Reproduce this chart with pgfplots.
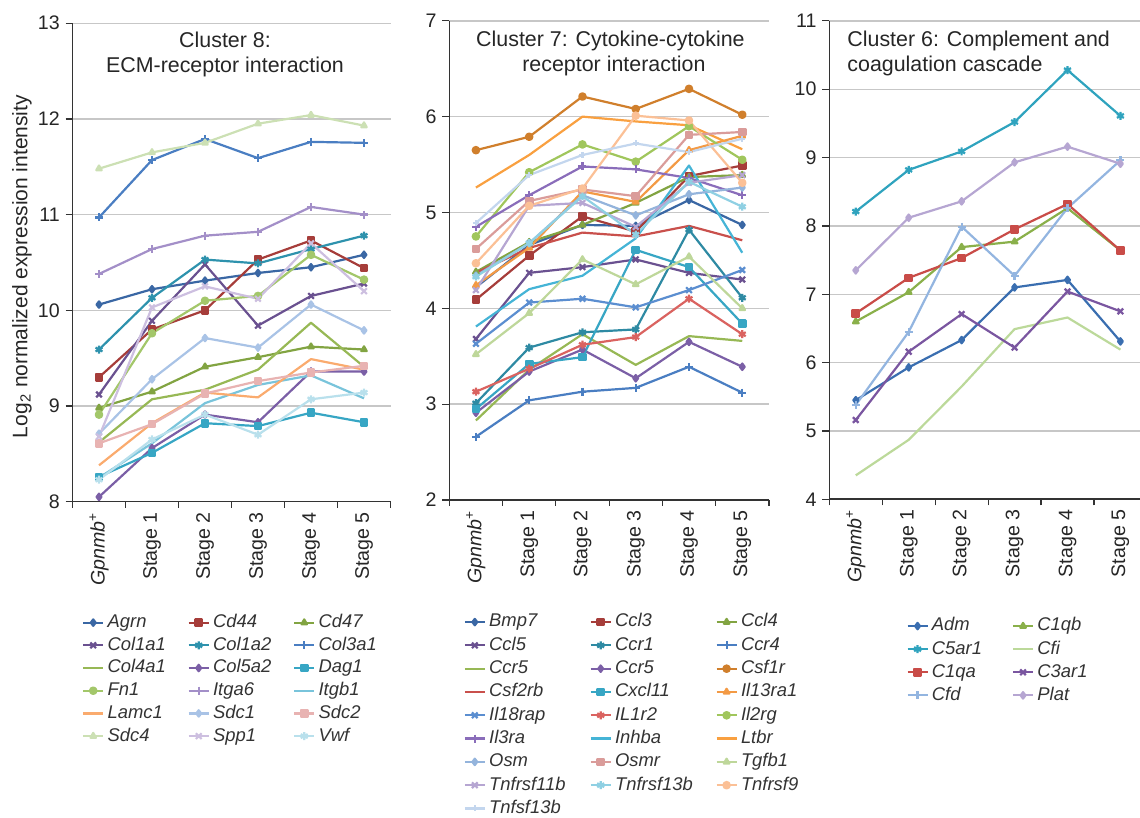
\documentclass[border=0pt]{standalone}
\usepackage{fontspec}
\setmainfont{Liberation Sans}
\usepackage{pgfplots}
\pgfplotsset{compat=1.18}

% panel 1 colours
\definecolor{agrn}{HTML}{3A67A4}
\definecolor{cdff}{HTML}{A63D3A}
\definecolor{cdfs}{HTML}{82A442}
\definecolor{colaa}{HTML}{6A5190}
\definecolor{colab}{HTML}{2E92AD}
\definecolor{colc}{HTML}{4A7EC2}
\definecolor{cold}{HTML}{97B855}
\definecolor{cole}{HTML}{7B5FA6}
\definecolor{dag}{HTML}{37A6C4}
\definecolor{fn}{HTML}{A3C76A}
\definecolor{itga}{HTML}{A38FC8}
\definecolor{itgb}{HTML}{79C4DB}
\definecolor{lamc}{HTML}{FAAB6E}
\definecolor{sdca}{HTML}{A9C3E6}
\definecolor{sdcb}{HTML}{E8B3B2}
\definecolor{sdcd}{HTML}{CCE0B4}
\definecolor{spp}{HTML}{CDBFE0}
\definecolor{vwf}{HTML}{B9E0EC}
% panel 2 colours
\definecolor{ccra}{HTML}{2E8AA3}
\definecolor{csfa}{HTML}{D07F2C}
\definecolor{csfb}{HTML}{C9504C}
\definecolor{ilca}{HTML}{F39A45}
\definecolor{ilr}{HTML}{5B8ED0}
\definecolor{ilrr}{HTML}{DA6360}
\definecolor{ilg}{HTML}{A0C65C}
\definecolor{ilra}{HTML}{8A6DBA}
\definecolor{inh}{HTML}{45B4D6}
\definecolor{ltbr}{HTML}{F9A040}
\definecolor{osm}{HTML}{94B4DC}
\definecolor{osmr}{HTML}{DA9C9A}
\definecolor{tgf}{HTML}{BED79A}
\definecolor{tnfa}{HTML}{B6A6D2}
\definecolor{tnfb}{HTML}{8FD0E3}
\definecolor{tnfc}{HTML}{FBC096}
\definecolor{tnfd}{HTML}{C3D6EE}
% panel 3 colours
\definecolor{adm}{HTML}{3A6EB0}
\definecolor{cqb}{HTML}{8AB04A}
\definecolor{car}{HTML}{2FA3BE}
\definecolor{cfi}{HTML}{BCD99A}
\definecolor{cqa}{HTML}{C94C48}
\definecolor{ctr}{HTML}{7A56A0}
\definecolor{cfd}{HTML}{93B5E0}
\definecolor{plat}{HTML}{B6A6D2}

\newcommand{\la}[1]{\makebox[40pt][l]{#1}}
\newcommand{\lb}[1]{\makebox[50.2pt][l]{#1}}

\tikzset{tnode/.style={font=\fontsize{10.7}{12}\selectfont, text=black!85, inner sep=0pt}}

\pgfplotsset{
  panel/.style={
    scale only axis,
    axis x line*=bottom, axis y line*=left,
    axis line style={draw=black!80, line width=0.8pt},
    xmin=-0.5, xmax=5.5,
    xtick={0,1,2,3,4,5},
    xticklabels={{\textit{Gpnmb}\textsuperscript{+}},Stage 1,Stage 2,Stage 3,Stage 4,Stage 5},
    minor xtick={-0.5,0.5,1.5,2.5,3.5,4.5,5.5},
    major x tick style={draw=none},
    minor x tick style={draw=black!80, line width=0.6pt},
    minor tick length=3pt,
    major tick length=3.5pt,
    tick align=outside,
    ytick style={draw=black!80, line width=0.6pt},
    ymajorgrids,
    grid style={draw=black!22, line width=0.7pt},
    tick label style={font=\fontsize{9.8}{11}\selectfont, text=black!85},
    xticklabel style={rotate=90, anchor=east, inner sep=0pt},
    xticklabel shift=1.5pt,
    yticklabel style={inner sep=0pt},
    yticklabel shift=2.7pt,
    /pgf/number format/assume math mode=true,
    every axis plot/.append style={line width=1.1pt, mark size=1.6pt, line join=round},
    legend image code/.code={\draw[mark repeat=2,mark phase=2] plot coordinates {(0pt,0pt) (5pt,0pt) (10pt,0pt)};},
    legend style={draw=none, fill=none, inner sep=0pt, anchor=north west,
      font=\fontsize{9.2}{10}\selectfont\itshape, text=black!80,
      nodes={inner sep=0pt, text height=6.8pt, text depth=1.9pt},
      column sep=0pt,
      /tikz/every odd column/.append style={column sep=1.65pt}},
    legend cell align=left,
    clip=false,
  },
}

\begin{document}
\begin{tikzpicture}
\useasboundingbox (0pt,0pt) rectangle (570pt,409pt);

% ---------------- Panel 1 ----------------
\begin{axis}[panel,
  at={(36.25pt,158.15pt)}, anchor=south west,
  width=159pt, height=239.25pt,
  ymin=8, ymax=13, ytick={8,9,10,11,12,13},
  ylabel={Log\textsubscript{2} normalized expression intensity},
  every axis y label/.style={at={(axis description cs:-0.159,0.4915)}, rotate=90, anchor=center,
     font=\fontsize{10.5}{12}\selectfont, text=black!85},
  legend columns=3,
  legend style={at={(axis description cs:0.029,-0.2337)}, row sep=2.65pt},
]
\addplot[color=agrn, mark=diamond*] coordinates {(0,10.06) (1,10.22) (2,10.31) (3,10.39) (4,10.45) (5,10.58)};
\addlegendentry{\la{Agrn}}
\addplot[color=cdff, mark=square*] coordinates {(0,9.30) (1,9.80) (2,10.00) (3,10.53) (4,10.73) (5,10.44)};
\addlegendentry{\la{Cd44}}
\addplot[color=cdfs, mark=triangle*] coordinates {(0,8.98) (1,9.15) (2,9.41) (3,9.51) (4,9.62) (5,9.59)};
\addlegendentry{\la{Cd47}}
\addplot[color=colaa, mark=x, mark size=2pt] coordinates {(0,9.12) (1,9.89) (2,10.48) (3,9.84) (4,10.15) (5,10.28)};
\addlegendentry{\la{Col1a1}}
\addplot[color=colab, mark=asterisk, mark size=2pt] coordinates {(0,9.59) (1,10.13) (2,10.53) (3,10.49) (4,10.64) (5,10.78)};
\addlegendentry{\la{Col1a2}}
\addplot[color=colc, mark=+, mark size=2pt] coordinates {(0,10.97) (1,11.57) (2,11.79) (3,11.59) (4,11.76) (5,11.75)};
\addlegendentry{\la{Col3a1}}
\addplot[color=cold, mark=none] coordinates {(0,8.62) (1,9.07) (2,9.17) (3,9.38) (4,9.87) (5,9.41)};
\addlegendentry{\la{Col4a1}}
\addplot[color=cole, mark=diamond*] coordinates {(0,8.05) (1,8.56) (2,8.91) (3,8.83) (4,9.36) (5,9.36)};
\addlegendentry{\la{Col5a2}}
\addplot[color=dag, mark=square*] coordinates {(0,8.26) (1,8.51) (2,8.82) (3,8.79) (4,8.93) (5,8.83)};
\addlegendentry{\la{Dag1}}
\addplot[color=fn, mark=*] coordinates {(0,8.91) (1,9.76) (2,10.10) (3,10.15) (4,10.58) (5,10.32)};
\addlegendentry{\la{Fn1}}
\addplot[color=itga, mark=+, mark size=2pt] coordinates {(0,10.38) (1,10.64) (2,10.78) (3,10.82) (4,11.08) (5,11.00)};
\addlegendentry{\la{Itga6}}
\addplot[color=itgb, mark=none] coordinates {(0,8.25) (1,8.61) (2,9.03) (3,9.22) (4,9.32) (5,9.08)};
\addlegendentry{\la{Itgb1}}
\addplot[color=lamc, mark=none] coordinates {(0,8.38) (1,8.82) (2,9.14) (3,9.09) (4,9.49) (5,9.38)};
\addlegendentry{\la{Lamc1}}
\addplot[color=sdca, mark=diamond*] coordinates {(0,8.71) (1,9.28) (2,9.71) (3,9.61) (4,10.06) (5,9.79)};
\addlegendentry{\la{Sdc1}}
\addplot[color=sdcb, mark=square*] coordinates {(0,8.61) (1,8.81) (2,9.13) (3,9.26) (4,9.35) (5,9.42)};
\addlegendentry{\la{Sdc2}}
\addplot[color=sdcd, mark=triangle*] coordinates {(0,11.48) (1,11.65) (2,11.75) (3,11.95) (4,12.04) (5,11.93)};
\addlegendentry{\la{Sdc4}}
\addplot[color=spp, mark=x, mark size=2pt] coordinates {(0,8.68) (1,10.03) (2,10.25) (3,10.12) (4,10.70) (5,10.20)};
\addlegendentry{\la{Spp1}}
\addplot[color=vwf, mark=asterisk, mark size=2pt] coordinates {(0,8.23) (1,8.65) (2,8.91) (3,8.70) (4,9.07) (5,9.14)};
\addlegendentry{\la{Vwf}}
\node[tnode, anchor=base] at (rel axis cs:0.4796,0.9488) {Cluster 8:};
\node[tnode, anchor=base] at (rel axis cs:0.4796,0.8966) {ECM-receptor interaction};
\end{axis}

% ---------------- Panel 2 ----------------
\begin{axis}[panel,
  at={(224.65pt,159pt)}, anchor=south west,
  width=159.8pt, height=239.6pt,
  ymin=2, ymax=7, ytick={2,3,4,5,6,7},
  legend columns=3,
  legend style={at={(axis description cs:0.0438,-0.2358)}, row sep=2.95pt},
]
\addplot[color=agrn, mark=diamond*] coordinates {(0,4.22) (1,4.66) (2,4.87) (3,4.86) (4,5.13) (5,4.87)};
\addlegendentry{\lb{Bmp7}}
\addplot[color=cdff, mark=square*] coordinates {(0,4.09) (1,4.55) (2,4.96) (3,4.80) (4,5.38) (5,5.49)};
\addlegendentry{\lb{Ccl3}}
\addplot[color=cdfs, mark=triangle*] coordinates {(0,4.38) (1,4.69) (2,4.87) (3,5.10) (4,5.37) (5,5.39)};
\addlegendentry{\lb{Ccl4}}
\addplot[color=colaa, mark=x, mark size=2pt] coordinates {(0,3.68) (1,4.37) (2,4.43) (3,4.51) (4,4.37) (5,4.30)};
\addlegendentry{\lb{Ccl5}}
\addplot[color=ccra, mark=asterisk, mark size=2pt] coordinates {(0,3.01) (1,3.59) (2,3.75) (3,3.78) (4,4.82) (5,4.11)};
\addlegendentry{\lb{Ccr1}}
\addplot[color=colc, mark=+, mark size=2pt] coordinates {(0,2.66) (1,3.04) (2,3.13) (3,3.17) (4,3.39) (5,3.12)};
\addlegendentry{\lb{Ccr4}}
\addplot[color=cold, mark=none] coordinates {(0,2.83) (1,3.36) (2,3.73) (3,3.41) (4,3.71) (5,3.66)};
\addlegendentry{\lb{Ccr5}}
\addplot[color=cole, mark=diamond*] coordinates {(0,2.91) (1,3.34) (2,3.57) (3,3.27) (4,3.65) (5,3.39)};
\addlegendentry{\lb{Ccr5}}
\addplot[color=csfa, mark=*] coordinates {(0,5.65) (1,5.79) (2,6.21) (3,6.08) (4,6.29) (5,6.02)};
\addlegendentry{\lb{Csf1r}}
\addplot[color=csfb, mark=none] coordinates {(0,4.37) (1,4.63) (2,4.79) (3,4.75) (4,4.86) (5,4.71)};
\addlegendentry{\lb{Csf2rb}}
\addplot[color=dag, mark=square*] coordinates {(0,2.95) (1,3.42) (2,3.49) (3,4.61) (4,4.43) (5,3.84)};
\addlegendentry{\lb{Cxcl11}}
\addplot[color=ilca, mark=triangle*] coordinates {(0,4.24) (1,4.63) (2,5.22) (3,5.11) (4,5.65) (5,5.80)};
\addlegendentry{\lb{Il13ra1}}
\addplot[color=ilr, mark=x, mark size=2pt] coordinates {(0,3.63) (1,4.06) (2,4.10) (3,4.01) (4,4.19) (5,4.40)};
\addlegendentry{\lb{Il18rap}}
\addplot[color=ilrr, mark=asterisk, mark size=2pt] coordinates {(0,3.13) (1,3.37) (2,3.62) (3,3.70) (4,4.10) (5,3.73)};
\addlegendentry{\lb{IL1r2}}
\addplot[color=ilg, mark=*] coordinates {(0,4.75) (1,5.42) (2,5.71) (3,5.53) (4,5.90) (5,5.55)};
\addlegendentry{\lb{Il2rg}}
\addplot[color=ilra, mark=+, mark size=2pt] coordinates {(0,4.85) (1,5.18) (2,5.48) (3,5.45) (4,5.36) (5,5.18)};
\addlegendentry{\lb{Il3ra}}
\addplot[color=inh, mark=none] coordinates {(0,3.81) (1,4.20) (2,4.34) (3,4.73) (4,5.49) (5,4.58)};
\addlegendentry{\lb{Inhba}}
\addplot[color=ltbr, mark=none] coordinates {(0,5.26) (1,5.60) (2,6.00) (3,5.95) (4,5.91) (5,5.66)};
\addlegendentry{\lb{Ltbr}}
\addplot[color=osm, mark=diamond*] coordinates {(0,4.34) (1,4.68) (2,5.18) (3,4.97) (4,5.19) (5,5.26)};
\addlegendentry{\lb{Osm}}
\addplot[color=osmr, mark=square*] coordinates {(0,4.62) (1,5.12) (2,5.24) (3,5.17) (4,5.81) (5,5.84)};
\addlegendentry{\lb{Osmr}}
\addplot[color=tgf, mark=triangle*] coordinates {(0,3.52) (1,3.95) (2,4.51) (3,4.25) (4,4.54) (5,4.00)};
\addlegendentry{\lb{Tgfb1}}
\addplot[color=tnfa, mark=x, mark size=2pt] coordinates {(0,4.19) (1,5.07) (2,5.10) (3,4.85) (4,5.31) (5,5.39)};
\addlegendentry{\lb{Tnfrsf11b}}
\addplot[color=tnfb, mark=asterisk, mark size=2pt] coordinates {(0,4.33) (1,4.68) (2,5.17) (3,4.77) (4,5.32) (5,5.06)};
\addlegendentry{\lb{Tnfrsf13b}}
\addplot[color=tnfc, mark=*] coordinates {(0,4.47) (1,5.07) (2,5.25) (3,6.01) (4,5.96) (5,5.31)};
\addlegendentry{\lb{Tnfrsf9}}
\addplot[color=tnfd, mark=+, mark size=1.5pt] coordinates {(0,4.89) (1,5.39) (2,5.60) (3,5.72) (4,5.63) (5,5.77)};
\addlegendentry{\lb{Tnfsf13b}}
\node[tnode, anchor=base] at (rel axis cs:0.5042,0.946) {Cluster 7: Cytokine-cytokine};
\node[tnode, anchor=base] at (rel axis cs:0.5152,0.894) {receptor interaction};
\end{axis}

% ---------------- Panel 3 ----------------
\begin{axis}[panel,
  at={(414.65pt,159.35pt)}, anchor=south west,
  width=155.35pt, height=239.2pt,
  xmax=5.37,
  ymin=4, ymax=11, ytick={4,5,6,7,8,9,10,11},
  legend columns=2,
  legend style={at={(axis description cs:0.247,-0.246)}, row sep=2.85pt},
]
\addplot[color=adm, mark=diamond*] coordinates {(0,5.45) (1,5.93) (2,6.33) (3,7.10) (4,7.21) (5,6.31)};
\addlegendentry{\la{Adm}}
\addplot[color=cqb, mark=triangle*] coordinates {(0,6.60) (1,7.03) (2,7.69) (3,7.77) (4,8.26) (5,7.64)};
\addlegendentry{\la{C1qb}}
\addplot[color=car, mark=asterisk, mark size=2pt] coordinates {(0,8.21) (1,8.82) (2,9.09) (3,9.52) (4,10.28) (5,9.61)};
\addlegendentry{\la{C5ar1}}
\addplot[color=cfi, mark=none] coordinates {(0,4.35) (1,4.87) (2,5.65) (3,6.49) (4,6.66) (5,6.19)};
\addlegendentry{\la{Cfi}}
\addplot[color=cqa, mark=square*] coordinates {(0,6.72) (1,7.24) (2,7.53) (3,7.95) (4,8.32) (5,7.64)};
\addlegendentry{\la{C1qa}}
\addplot[color=ctr, mark=x, mark size=2pt] coordinates {(0,5.16) (1,6.16) (2,6.71) (3,6.22) (4,7.04) (5,6.75)};
\addlegendentry{\la{C3ar1}}
\addplot[color=cfd, mark=+, mark size=2pt] coordinates {(0,5.38) (1,6.45) (2,7.99) (3,7.27) (4,8.26) (5,8.96)};
\addlegendentry{\la{Cfd}}
\addplot[color=plat, mark=diamond*] coordinates {(0,7.35) (1,8.12) (2,8.36) (3,8.93) (4,9.16) (5,8.91)};
\addlegendentry{\la{Plat}}
\node[tnode, anchor=base west] at (rel axis cs:0.057,0.9463) {Cluster 6: Complement and};
\node[tnode, anchor=base west] at (rel axis cs:0.057,0.894) {coagulation cascade};
\end{axis}
\end{tikzpicture}
\end{document}
